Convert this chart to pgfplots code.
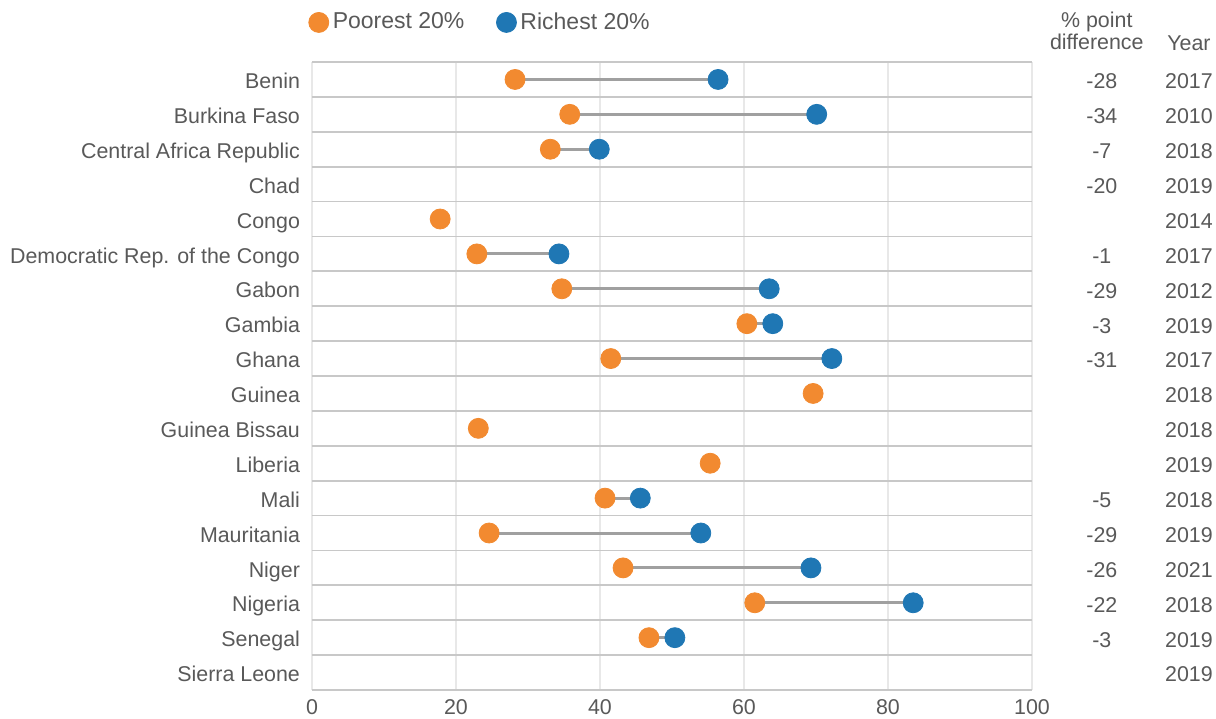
\documentclass[border=0pt]{standalone}
\usepackage{pgfplots}
\usepackage{pgfplotstable}
\pgfplotsset{compat=1.18}
\usepackage{fontspec}
\setmainfont{Liberation Sans}
\definecolor{poor}{HTML}{F28A30}
\definecolor{rich}{HTML}{1F77B4}
\definecolor{txt}{HTML}{595959}
\definecolor{sep}{HTML}{C8C8C8}
\definecolor{vgrid}{HTML}{E8E8E8}
\definecolor{conn}{HTML}{A0A0A0}

\pgfplotstableread{
row poor rich
0 28.2 56.4
1 35.8 70.1
2 33.1 39.9
3 nan nan
4 17.8 nan
5 22.9 34.3
6 34.7 63.5
7 60.4 64.0
8 41.5 72.2
9 69.6 nan
10 23.1 nan
11 55.3 nan
12 40.7 45.6
13 24.6 54.0
14 43.2 69.3
15 61.5 83.5
16 46.8 50.4
17 nan nan
}\data

\pgfplotstableread{
row poor rich
0 28.2 56.4
1 35.8 70.1
2 33.1 39.9
5 22.9 34.3
6 34.7 63.5
7 60.4 64.0
8 41.5 72.2
12 40.7 45.6
13 24.6 54.0
14 43.2 69.3
15 61.5 83.5
16 46.8 50.4
}\pairs

\newcommand{\fs}{\fontsize{10.7}{12}\selectfont}

\begin{document}
\begin{tikzpicture}
\begin{axis}[
  scale only axis,
  width=360pt, height=314pt,
  xmin=0, xmax=100,
  ymin=-0.5, ymax=17.5,
  y dir=reverse,
  clip=false,
  axis line style={draw=none},
  xtick={0,20,...,100},
  ytick={0,...,17},
  yticklabels={Benin,Burkina Faso,Central Africa Republic,Chad,Congo,Democratic Rep. of the Congo,Gabon,Gambia,Ghana,Guinea,Guinea Bissau,Liberia,Mali,Mauritania,Niger,Nigeria,Senegal,Sierra Leone},
  yticklabel style={xshift=-2.5pt, yshift=-1pt, text height=0.72em, text depth=0pt},
  xticklabel style={yshift=-1pt},
  minor ytick={-0.5,0.5,...,17.5},
  ymajorgrids=false,
  yminorgrids=true,
  xmajorgrids=true,
  minor grid style={color=sep, line width=0.9pt},
  major grid style={color=vgrid, line width=0.7pt},
  major tick length=0pt, minor tick length=0pt,
  tick label style={font=\fs, text=txt},
  /pgf/number format/assume math mode=true,
  legend style={draw=none, fill=none, at={(-0.005,1.063)}, anchor=west,
    font=\fontsize{11.5}{13}\selectfont, text=txt,
    legend columns=2, /tikz/every even column/.append style={column sep=14pt},
    inner sep=0pt},
  legend cell align=left,
  legend image code/.code={\draw[#1] plot coordinates {(0.12cm,0cm)};},
]
\addplot[draw=none, mark=none, forget plot,
  error bars/.cd, x dir=plus, x explicit, error mark=none,
  error bar style={line width=1.5pt, color=conn}]
  table[x=poor, y=row, x error expr=\thisrow{rich}-\thisrow{poor}] {\pairs};
\addplot[only marks, mark=*, mark size=5pt, color=poor, mark options={draw=poor, fill=poor}]
  table[x=poor, y=row] {\data};
\addlegendentry{Poorest 20\%}
\addplot[only marks, mark=*, mark size=5pt, color=rich, mark options={draw=rich, fill=rich}]
  table[x=rich, y=row] {\data};
\addlegendentry{Richest 20\%}

\coordinate (SW) at (axis description cs:0,0);
\coordinate (NE) at (axis description cs:1,1);

\node[align=center, inner sep=0pt, font=\fs, text=txt] at (axis cs:109.0,-1.38) {\% point\\[-1pt]difference};
\node[font=\fs, text=txt] at (axis cs:121.8,-1.05) {Year};
\tikzset{lab/.style={font=\fs, text=txt, yshift=-1pt}}
\node[lab] at (axis cs:109.7,0) {-28};
\node[lab] at (axis cs:109.7,1) {-34};
\node[lab] at (axis cs:109.7,2) {-7};
\node[lab] at (axis cs:109.7,3) {-20};
\node[lab] at (axis cs:109.7,5) {-1};
\node[lab] at (axis cs:109.7,6) {-29};
\node[lab] at (axis cs:109.7,7) {-3};
\node[lab] at (axis cs:109.7,8) {-31};
\node[lab] at (axis cs:109.7,12) {-5};
\node[lab] at (axis cs:109.7,13) {-29};
\node[lab] at (axis cs:109.7,14) {-26};
\node[lab] at (axis cs:109.7,15) {-22};
\node[lab] at (axis cs:109.7,16) {-3};
\node[lab] at (axis cs:121.8,0) {2017};
\node[lab] at (axis cs:121.8,1) {2010};
\node[lab] at (axis cs:121.8,2) {2018};
\node[lab] at (axis cs:121.8,3) {2019};
\node[lab] at (axis cs:121.8,4) {2014};
\node[lab] at (axis cs:121.8,5) {2017};
\node[lab] at (axis cs:121.8,6) {2012};
\node[lab] at (axis cs:121.8,7) {2019};
\node[lab] at (axis cs:121.8,8) {2017};
\node[lab] at (axis cs:121.8,9) {2018};
\node[lab] at (axis cs:121.8,10) {2018};
\node[lab] at (axis cs:121.8,11) {2019};
\node[lab] at (axis cs:121.8,12) {2018};
\node[lab] at (axis cs:121.8,13) {2019};
\node[lab] at (axis cs:121.8,14) {2021};
\node[lab] at (axis cs:121.8,15) {2018};
\node[lab] at (axis cs:121.8,16) {2019};
\node[lab] at (axis cs:121.8,17) {2019};
\end{axis}
\pgfresetboundingbox
\path ([shift={(-156pt,-14pt)}]SW) rectangle ([shift={(92pt,31pt)}]NE);
\end{tikzpicture}
\end{document}
